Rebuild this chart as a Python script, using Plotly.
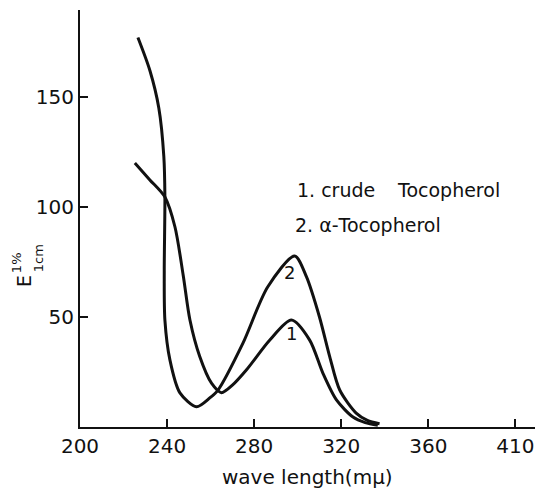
import plotly.graph_objects as go

# wavelength (mμ) and E(1%,1cm)
crude_wl = [225.2, 232.1, 239.0, 243.6, 247.4, 250.5, 255.0, 260.4, 265.0, 270.0, 276.5, 287.2, 297.1, 305.5, 311.6, 317.8, 325.4, 331.0, 336.8]
crude_E = [120.0, 112.3, 104.5, 91.0, 69.0, 48.6, 32.0, 19.9, 15.6, 19.0, 26.0, 39.5, 48.6, 39.5, 24.4, 12.3, 4.5, 2.0, 0.8]

alpha_wl = [226.6, 232.1, 236.2, 238.5, 239.0, 238.7, 239.0, 241.3, 245.9, 253.5, 259.6, 263.4, 274.8, 286.2, 298.6, 304.0, 310.0, 314.7, 319.3, 327.0, 332.0, 337.6]
alpha_E = [177.0, 162.0, 145.0, 123.0, 104.5, 71.0, 48.6, 30.5, 15.5, 9.2, 13.2, 16.8, 38.0, 63.6, 77.7, 68.3, 50.0, 32.0, 16.8, 6.2, 3.0, 1.5]

x_tickvals = [200, 240, 280, 320, 360, 400]
x_ticktext = ["200", "240", "280", "320", "360", "410"]
y_tickvals = [50, 100, 150]
y_ticktext = ["50", "100", "150"]

legend_line1 = ["1. crude", "Tocopherol"]
legend_line2 = "2. α-Tocopherol"
curve_labels = ["1", "2"]

FONT = "DejaVu Sans"
INK = "#111111"

fig = go.Figure()
fig.add_trace(go.Scatter(x=crude_wl, y=crude_E, mode="lines",
                         line=dict(color=INK, width=3, shape="spline", smoothing=0.8),
                         showlegend=False, hoverinfo="skip"))
fig.add_trace(go.Scatter(x=alpha_wl, y=alpha_E, mode="lines",
                         line=dict(color=INK, width=3, shape="spline", smoothing=0.8),
                         showlegend=False, hoverinfo="skip"))

txt = dict(family=FONT, size=19, color=INK)
annotations = [
    dict(x=298.8, y=107.5, xref="x", yref="y", text=legend_line1[0], showarrow=False,
         xanchor="left", yanchor="middle", font=txt),
    dict(x=344.7, y=107.5, xref="x", yref="y", text=legend_line1[1], showarrow=False,
         xanchor="left", yanchor="middle", font=txt),
    dict(x=297.8, y=92.0, xref="x", yref="y", text=legend_line2, showarrow=False,
         xanchor="left", yanchor="middle", font=txt),
    dict(x=297.0, y=42.7, xref="x", yref="y", text=curve_labels[0], showarrow=False,
         font=dict(family=FONT, size=18, color=INK)),
    dict(x=296.3, y=70.0, xref="x", yref="y", text=curve_labels[1], showarrow=False,
         font=dict(family=FONT, size=18, color=INK)),
    dict(x=0.501, y=-0.12, xref="paper", yref="paper", text="wave length(mμ)", showarrow=False,
         xanchor="center", yanchor="middle", font=dict(family=FONT, size=20, color=INK)),
    dict(x=-0.123, y=0.350, xref="paper", yref="paper", text="E", showarrow=False, textangle=-90,
         xanchor="center", yanchor="middle", font=dict(family=FONT, size=19, color=INK)),
    dict(x=-0.141, y=0.395, xref="paper", yref="paper", text="1%", showarrow=False, textangle=-90,
         xanchor="center", yanchor="middle", font=dict(family=FONT, size=13, color=INK)),
    dict(x=-0.092, y=0.405, xref="paper", yref="paper", text="1cm", showarrow=False, textangle=-90,
         xanchor="center", yanchor="middle", font=dict(family=FONT, size=13, color=INK)),
]

fig.update_layout(
    width=535, height=492,
    margin=dict(l=80, r=0, t=10, b=65),
    paper_bgcolor="white", plot_bgcolor="white",
    font=dict(family=FONT, size=20, color=INK),
    annotations=annotations,
    xaxis=dict(range=[200, 409], tickvals=x_tickvals, ticktext=x_ticktext,
               showgrid=False, zeroline=False, showline=True, linecolor=INK, linewidth=2,
               ticks="inside", ticklen=8, tickwidth=2, tickcolor=INK,
               tickfont=dict(family=FONT, size=20, color=INK)),
    yaxis=dict(range=[0, 189.5], tickvals=y_tickvals, ticktext=y_ticktext,
               showgrid=False, zeroline=False, showline=True, linecolor=INK, linewidth=2,
               ticks="inside", ticklen=8, tickwidth=2, tickcolor=INK,
               tickfont=dict(family=FONT, size=20, color=INK)),
)

fig.write_html("out.html", config={"displayModeBar": False, "staticPlot": True},
               post_script="document.body.style.margin='0';document.body.style.overflow='hidden';")
